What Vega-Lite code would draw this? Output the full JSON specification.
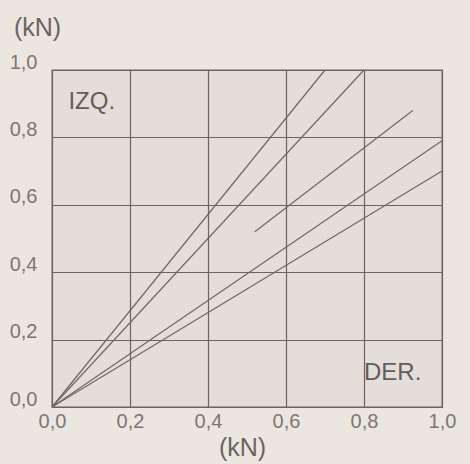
{
  "$schema": "https://vega.github.io/schema/vega-lite/v6.json",
  "width": 390,
  "height": 337,
  "autosize": {"type": "none"},
  "padding": {"left": 52, "top": 70, "right": 28, "bottom": 57},
  "background": "#ece6e1",
  "config": {
    "view": {"fill": "#e5ddd8", "stroke": "#6a6462", "strokeWidth": 1.3},
    "font": "Liberation Sans"
  },
  "datasets": {
    "lines": [
      {"serie": "a", "x": 0, "y": 0},
      {"serie": "a", "x": 0.7, "y": 1.0},
      {"serie": "b", "x": 0, "y": 0},
      {"serie": "b", "x": 0.8, "y": 1.0},
      {"serie": "c", "x": 0.52, "y": 0.52},
      {"serie": "c", "x": 0.925, "y": 0.88},
      {"serie": "d", "x": 0, "y": 0},
      {"serie": "d", "x": 1.0, "y": 0.79},
      {"serie": "e", "x": 0, "y": 0},
      {"serie": "e", "x": 1.0, "y": 0.70}
    ],
    "labels": [
      {"label": "IZQ.", "x": 0.042, "y": 0.905},
      {"label": "DER.", "x": 0.8, "y": 0.1}
    ]
  },
  "layer": [
    {
      "data": {"name": "lines"},
      "mark": {"type": "line", "color": "#6e6866", "strokeWidth": 1.2},
      "encoding": {
        "x": {
          "field": "x", "type": "quantitative",
          "scale": {"domain": [0, 1], "nice": false},
          "axis": {
            "values": [0, 0.2, 0.4, 0.6, 0.8, 1.0],
            "labelExpr": "replace(format(datum.value, '.1f'), '.', ',')",
            "title": "(kN)",
            "titleFont": "Liberation Sans",
            "titleFontSize": 25,
            "titleFontWeight": "normal",
            "titleColor": "#6a6462",
            "titleX": 190,
            "titleY": 40,
            "titleBaseline": "middle",
            "titleAlign": "center",
            "labelFontSize": 20,
            "labelColor": "#7d7673",
            "labelPadding": 4,
            "labelFlush": false,
            "ticks": false,
            "domain": false,
            "grid": true,
            "gridColor": "#6a6462",
            "gridWidth": 1.2,
            "gridOpacity": 1
          }
        },
        "y": {
          "field": "y", "type": "quantitative",
          "scale": {"domain": [0, 1], "nice": false},
          "axis": {
            "values": [0, 0.2, 0.4, 0.6, 0.8, 1.0],
            "labelExpr": "replace(format(datum.value, '.1f'), '.', ',')",
            "title": "(kN)",
            "titleFont": "Liberation Sans",
            "titleFontSize": 25,
            "titleFontWeight": "normal",
            "titleColor": "#6a6462",
            "titleAngle": 0,
            "titleX": -15,
            "titleY": -43,
            "titleAlign": "center",
            "titleBaseline": "middle",
            "labelFontSize": 20,
            "labelColor": "#7d7673",
            "labelPadding": 15,
            "labelOffset": -8,
            "labelFlush": false,
            "ticks": false,
            "domain": false,
            "grid": true,
            "gridColor": "#6a6462",
            "gridWidth": 1.2,
            "gridOpacity": 1
          }
        },
        "detail": {"field": "serie", "type": "nominal"}
      }
    },
    {
      "data": {"name": "labels"},
      "mark": {"type": "text", "align": "left", "baseline": "middle", "fontSize": 24, "color": "#635d5a", "font": "Liberation Sans"},
      "encoding": {
        "x": {"field": "x", "type": "quantitative"},
        "y": {"field": "y", "type": "quantitative"},
        "text": {"field": "label", "type": "nominal"}
      }
    }
  ]
}
